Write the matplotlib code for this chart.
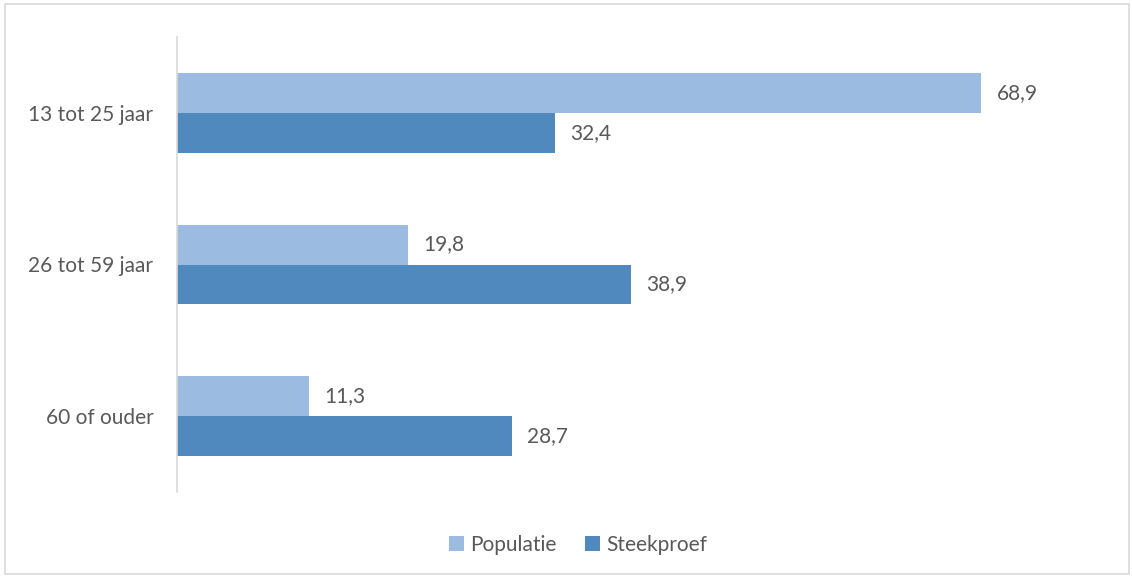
import matplotlib.pyplot as plt
import numpy as np
from matplotlib.patches import Rectangle

categories = ["13 tot 25 jaar", "26 tot 59 jaar", "60 of ouder"]
populatie = [68.9, 19.8, 11.3]
steekproef = [32.4, 38.9, 28.7]
series_names = ["Populatie", "Steekproef"]

light = "#9BBBE0"
dark = "#4F89BD"
text_color = "#595959"

plt.rcParams['font.family'] = ['Lato', 'DejaVu Sans']

W, H = 1132, 578
fig = plt.figure(figsize=(W / 100, H / 100), dpi=100)

# outer chart border
fig.patches.append(Rectangle((5 / W, 4 / H), 1124 / W, 570 / H, transform=fig.transFigure,
                             fill=False, edgecolor="#D9D9D9", linewidth=1.2))

ax = fig.add_axes([177 / W, 1 - 492 / H, 934 / W, 455 / H])
y = np.arange(len(categories))
h = 0.263

b1 = ax.barh(y - h / 2, populatie, height=h, color=light, label=series_names[0])
b2 = ax.barh(y + h / 2, steekproef, height=h, color=dark, label=series_names[1])

for bars, vals in ((b1, populatie), (b2, steekproef)):
    for bar, v in zip(bars, vals):
        ax.text(bar.get_width() + 1.3, bar.get_y() + bar.get_height() / 2,
                f"{v:.1f}".replace(".", ","), va="center", ha="left",
                fontsize=15, color=text_color)

ax.set_xlim(0, 80)
ax.set_ylim(2.5, -0.5)
ax.set_yticks(y)
ax.set_yticklabels(categories, fontsize=15, color=text_color)
ax.tick_params(axis="y", length=0, pad=17)
ax.set_xticks([])
for s in ["top", "right", "bottom"]:
    ax.spines[s].set_visible(False)
ax.spines["left"].set_color("#D9D9D9")
ax.spines["left"].set_linewidth(1.2)

leg = fig.legend(loc="center", bbox_to_anchor=(578 / W, 1 - 545 / H), ncol=2, frameon=False,
                 fontsize=15, handlelength=0.7, handleheight=0.7, handletextpad=0.3,
                 columnspacing=1.4)
for t in leg.get_texts():
    t.set_color(text_color)

fig.savefig("out.png", dpi=100)
